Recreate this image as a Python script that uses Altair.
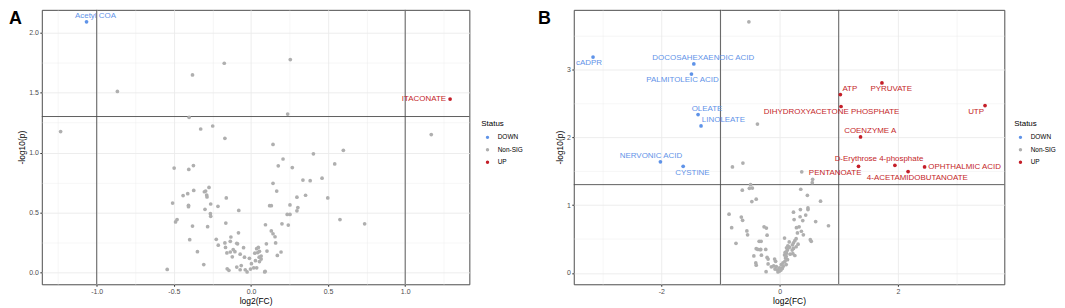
import altair as alt
import pandas as pd

BLUE = "#5F93E8"
GREY = "#AFAFAF"
RED = "#C41E28"
FONT = "Liberation Sans"

# ---------------- Panel A data ----------------
a_grey_fc = [-0.866, -0.379, -0.173, -1.234, -0.401, -0.326, -0.248, -0.169, 0.255, 0.238, 1.169, 0.143, 0.208, 0.405, 0.599,
             0.177, 0.268, 0.543, 0.337, 0.384, 0.461, 0.143, 0.167, 0.498, 0.354, 0.298, 0.121, 0.132, 0.253, 0.304, 0.298,
             0.235, 0.253, 0.577, 0.737, 0.094, 0.201, 0.242, 0.132, 0.143, 0.156, 0.100, 0.160, 0.055, 0.104, 0.195, 0.171,
             0.066, 0.066, 0.089,
             -0.498, -0.403, -0.373, -0.44, -0.41, -0.371, -0.302, -0.294, -0.272, -0.287, -0.285, -0.508, -0.405, -0.405,
             -0.261, -0.214, -0.160, -0.079, -0.298, -0.263, -0.261, -0.479, -0.489, -0.379, -0.281, -0.163, -0.081, -0.397,
             -0.225, -0.130, -0.212, -0.169, -0.165, -0.134, -0.092, -0.087, -0.048, -0.115, -0.134, -0.104, -0.156, -0.070,
             -0.121, -0.042, -0.010, 0.037, 0.048, 0.025, 0.044, 0.053, 0.029, 0.003, 0.055, 0.018, 0.037, -0.003, -0.037,
             -0.070, -0.063, -0.092, -0.025, 0.092, -0.154, -0.143, -0.347, -0.306, -0.543]
a_grey_logp = [1.51, 1.648, 1.745, 1.176, 1.294, 1.197, 1.222, 1.119, 1.776, 1.321, 1.151, 1.068, 0.947, 0.990, 1.019,
               0.890, 0.876, 0.906, 0.771, 0.766, 0.787, 0.744, 0.680, 0.623, 0.645, 0.629, 0.558, 0.558, 0.564, 0.542, 0.515,
               0.485, 0.485, 0.442, 0.407, 0.399, 0.407, 0.396, 0.348, 0.324, 0.299, 0.240, 0.248, 0.178, 0.180, 0.172, 0.143,
               0.138, 0.113, 0.006,
               0.871, 0.860, 0.892, 0.642, 0.658, 0.685, 0.674, 0.680, 0.710, 0.647, 0.631, 0.58, 0.561, 0.550,
               0.572, 0.553, 0.623, 0.518, 0.528, 0.491, 0.469, 0.442, 0.423, 0.388, 0.383, 0.413, 0.332, 0.275,
               0.278, 0.297, 0.229, 0.248, 0.210, 0.261, 0.245, 0.240, 0.208, 0.192, 0.172, 0.175, 0.164, 0.154,
               0.132, 0.129, 0.119, 0.200, 0.210, 0.162, 0.167, 0.129, 0.100, 0.075, 0.092, 0.040, 0.040, 0.030, 0.024,
               0.024, 0.059, 0.046, 0.006, 0.011, 0.032, 0.019, 0.175, 0.067, 0.027]
a_sig_name = ["Acetyl COA", "ITACONATE"]
a_sig_fc = [-1.066, 1.291]
a_sig_logp = [2.09, 1.446]
a_sig_status = ["DOWN", "UP"]

# ---------------- Panel B data ----------------
b_grey_fc = [-0.519, -0.374,
             -0.797, -0.62, 0.375, 0.559, 0.553, -0.49, -0.46, -0.51, -0.63, 0.358, 0.47, -0.395, -0.469, 0.693, 0.48, 0.48,
             0.352, -0.854, 0.235, 0.442, 0.347, -0.647, -0.625, 0.246, 0.392, 0.61, 0.827, -0.81, -0.262, -0.223, 0.33,
             0.285, -0.553, -0.541, 0.369, 0.302, 0.402, -0.211, -0.737, -0.345, -0.312, 0.084, 0.28, 0.258, 0.52, 0.536,
             0.163, 0.235, 0.218, 0.14, 0.117, -0.395, -0.368, -0.328, -0.318, -0.234, -0.435, -0.307, -0.211, -0.194,
             -0.402, -0.395, -0.194, -0.139, -0.228, -0.084, -0.067,
             -0.10, -0.055, -0.077, -0.039, 0.0, -0.027, 0.023, 0.045, 0.062, 0.057, 0.09, 0.1, 0.084, 0.117, 0.129, 0.146,
             0.168, 0.095, 0.112, 0.134, 0.179, 0.213, 0.235, 0.258, 0.28, 0.313, 0.224, 0.112, 0.0, 0.028]
b_grey_logp = [3.70, 2.194,
               1.561, 1.619, 1.49, 1.38, 1.33, 1.30, 1.25, 1.247, 1.219, 1.233, 1.143, 1.086, 1.052, 1.057, 0.957, 0.933,
               0.933, 0.866, 0.895, 0.852, 0.828, 0.823, 0.776, 0.786, 0.771, 0.757, 0.695, 0.666, 0.68, 0.661, 0.68,
               0.666, 0.619, 0.561, 0.614, 0.59, 0.561, 0.557, 0.437, 0.466, 0.466, 0.514, 0.504, 0.476, 0.49, 0.466,
               0.457, 0.443, 0.414, 0.4, 0.371, 0.357, 0.347, 0.343, 0.347, 0.347, 0.251, 0.261, 0.228, 0.204,
               0.147, 0.114, 0.133, 0.09, 0.019, 0.204, 0.171,
               0.104, 0.095, 0.057, 0.047, 0.028, 0.014, 0.043, 0.066, 0.1, 0.147, 0.171, 0.219, 0.266, 0.29, 0.333, 0.366,
               0.38, 0.304, 0.243, 0.195, 0.276, 0.337, 0.361, 0.257, 0.386, 0.423, 0.286, 0.123, 0.076, 0.123]
b_sig_name = ["cADPR", "DOCOSAHEXAENOIC ACID", "PALMITOLEIC ACID", "OLEATE", "LINOLEATE", "NERVONIC ACID", "CYSTINE",
              "ATP", "PYRUVATE", "DIHYDROXYACETONE PHOSPHATE", "UTP", "COENZYME A", "D-Erythrose 4-phosphate",
              "PENTANOATE", "4-ACETAMIDOBUTANOATE", "OPHTHALMIC ACID"]
b_sig_fc = [-3.154, -1.45, -1.49, -1.378, -1.328, -2.015, -1.63,
            1.028, 1.731, 1.039, 3.474, 1.369, 1.95, 1.335, 2.173, 2.452]
b_sig_logp = [3.18, 3.08, 2.93, 2.333, 2.166, 1.637, 1.571,
              2.628, 2.80, 2.452, 2.466, 2.004, 1.586, 1.571, 1.494, 1.561]
b_sig_status = ["DOWN"] * 7 + ["UP"] * 9

fc_cut = [-1, 1]
p_cut = [1.301]
status_levels = ["DOWN", "Non-SIG", "UP"]

# label nudges in pixels (dx, dy, align)
a_nudge = {"Acetyl COA": (9, -6, "center"), "ITACONATE": (-4, 0, "right")}
b_nudge = {"cADPR": (-4, 6, "center"), "DOCOSAHEXAENOIC ACID": (9.5, -6, "center"),
           "PALMITOLEIC ACID": (-9, 6, "center"), "OLEATE": (9, -6, "center"), "LINOLEATE": (22.5, -6, "center"),
           "NERVONIC ACID": (-9.5, -6, "center"), "CYSTINE": (9.3, 6.4, "center"), "ATP": (9.5, -6, "center"),
           "PYRUVATE": (9.3, 6, "center"), "DIHYDROXYACETONE PHOSPHATE": (-9.5, 6, "center"),
           "UTP": (-9, 6.3, "center"), "COENZYME A": (9.7, -6, "center"),
           "D-Erythrose 4-phosphate": (-16, -6, "center"), "PENTANOATE": (-23.5, 6.4, "center"),
           "4-ACETAMIDOBUTANOATE": (9.3, 6.3, "center"), "OPHTHALMIC ACID": (3.7, 0, "left")}


def make_df(gfc, glp, sname, sfc, slp, sstat):
    g = pd.DataFrame({"name": [""] * len(gfc), "fc": gfc, "logp": glp, "status": ["Non-SIG"] * len(gfc)})
    s = pd.DataFrame({"name": sname, "fc": sfc, "logp": slp, "status": sstat})
    return pd.concat([g, s], ignore_index=True)


def make_axis(values, major, fmt, title):
    test = f"abs(datum.value/{major} - round(datum.value/{major})) < 0.000001"
    return alt.Axis(
        values=values, title=title,
        labelExpr=f"({test}) ? replace(format(datum.value, '{fmt}'), '\u2212', '-') : ''",
        gridWidth={"condition": {"test": test, "value": 0.9}, "value": 0.45},
        tickOpacity={"condition": {"test": test, "value": 1}, "value": 0},
        labelFlush=False, labelOverlap=False,
    )


def panel(df, letter, letter_x, xdom, ydom, xvals, xmajor, xfmt, yvals, ymajor, yfmt, nudges, w, h, leg_off):
    cscale = alt.Scale(domain=status_levels, range=[BLUE, GREY, RED])
    X = alt.X("fc:Q", scale=alt.Scale(domain=xdom, nice=False, zero=False),
              axis=make_axis(xvals, xmajor, xfmt, "log2(FC)"))
    Y = alt.Y("logp:Q", scale=alt.Scale(domain=ydom, nice=False, zero=False),
              axis=make_axis(yvals, ymajor, yfmt, "-log10(p)"))
    vr = alt.Chart(pd.DataFrame({"fc": fc_cut})).mark_rule(color="#4D4D4D", strokeWidth=0.9).encode(x=X)
    hr = alt.Chart(pd.DataFrame({"logp": p_cut})).mark_rule(color="#4D4D4D", strokeWidth=0.9).encode(y=Y)
    legend = alt.Legend(title="Status", orient="none", legendX=w + leg_off, legendY=111,
                        titleFontSize=8, titleFontWeight="normal", titleFont=FONT, titleColor="black",
                        labelFontSize=6.5, labelFont=FONT, labelColor="black",
                        symbolSize=12, symbolType="circle", symbolStrokeWidth=0,
                        rowPadding=5.5, titlePadding=6, symbolOffset=3, labelOffset=7, padding=0)
    pts = alt.Chart(df).mark_circle(size=14, opacity=1).encode(
        x=X, y=Y, color=alt.Color("status:N", scale=cscale, legend=legend))
    labels = []
    for name, (dx, dy, align) in nudges.items():
        labels.append(
            alt.Chart(df).transform_filter(alt.datum.name == name)
            .mark_text(dx=dx, dy=dy, align=align, baseline="middle", fontSize=8, font=FONT)
            .encode(x=X, y=Y, text="name:N", color=alt.Color("status:N", scale=cscale, legend=None))
        )
    let = alt.Chart(pd.DataFrame({"t": [letter]})).mark_text(
        align="left", baseline="top", fontSize=18, fontWeight="bold", font=FONT, color="black"
    ).encode(x=alt.value(letter_x), y=alt.value(0), text="t:N")
    return alt.layer(vr, hr, pts, *labels, let).properties(width=w, height=h)


df_a = make_df(a_grey_fc, a_grey_logp, a_sig_name, a_sig_fc, a_sig_logp, a_sig_status)
df_b = make_df(b_grey_fc, b_grey_logp, b_sig_name, b_sig_fc, b_sig_logp, b_sig_status)

H = 276
pa = panel(df_a, "A", -33, [-1.356, 1.416], [-0.097, 2.19],
           [-1.25, -1.0, -0.75, -0.5, -0.25, 0.0, 0.25, 0.5, 0.75, 1.0, 1.25], 0.5, ".1f",
           [0.0, 0.25, 0.5, 0.75, 1.0, 1.25, 1.5, 1.75, 2.0], 0.5, ".1f", a_nudge, 430, H, 12)
pb = panel(df_b, "B", -36, [-3.48, 3.80], [-0.167, 3.876],
           [-3, -2, -1, 0, 1, 2, 3], 2, "d",
           [0, 0.5, 1, 1.5, 2, 2.5, 3, 3.5], 1, "d", b_nudge, 433, H, 10)

chart = (
    alt.hconcat(pa, pb, spacing=13)
    .resolve_scale(color="independent", x="independent", y="independent")
    .resolve_legend(color="independent")
    .properties(padding=0)
    .configure_view(stroke="#4D4D4D", strokeWidth=1)
    .configure_axis(domain=False, gridColor="#EBEBEB", tickColor="#333333", tickSize=2,
                    labelFont=FONT, labelFontSize=7, labelColor="#4D4D4D", labelPadding=1.5,
                    titleFont=FONT, titleFontSize=8.5, titleFontWeight="normal", titleColor="black",
                    titlePadding=2)
)

chart.save("out.html", embed_options={"renderer": "svg", "actions": False})
